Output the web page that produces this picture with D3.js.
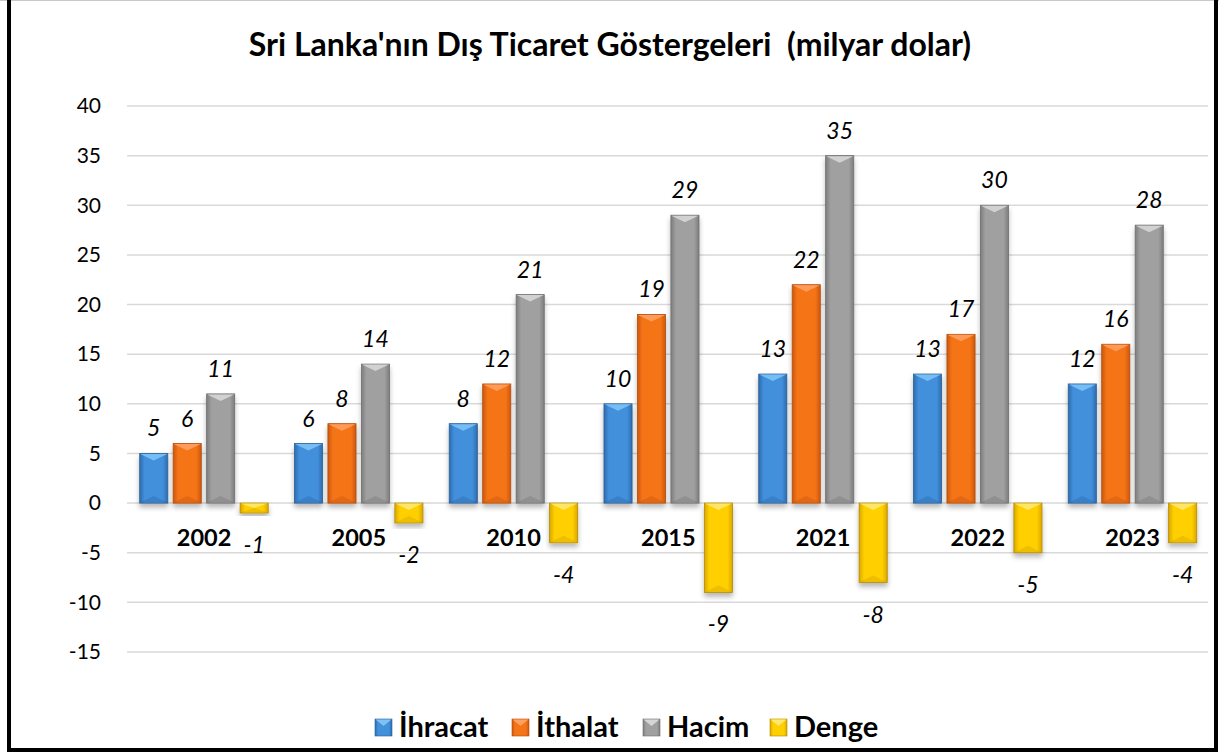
<!DOCTYPE html>
<html><head><meta charset="utf-8">
<script src="https://cdn.jsdelivr.net/npm/d3@7"></script>
<style>
html,body{margin:0;padding:0;background:#fff;}
svg{display:block;font-family:Lato,"Open Sans",sans-serif;}
</style></head>
<body>
<svg id="chart" width="1219" height="755"></svg>
<script>
const categories = ["2002","2005","2010","2015","2021","2022","2023"];
const seriesNames = ["İhracat","İthalat","Hacim","Denge"];
const ihracat = [5,6,8,10,13,13,12];
const ithalat = [6,8,12,19,22,17,16];
const hacim = [11,14,21,29,35,30,28];
const denge = [-1,-2,-4,-9,-8,-5,-4];
const yTicks = [40,35,30,25,20,15,10,5,0,-5,-10,-15];
const titleText = "Sri Lanka'nın Dış Ticaret Göstergeleri  (milyar dolar)";

const seriesValues = [ihracat, ithalat, hacim, denge];
const palette = [
  {base:"#4390db", light:"#7cc2f5", dark:"#2d6cb0", edge:"#2b5f96"},
  {base:"#f57418", light:"#ffa060", dark:"#cc580c", edge:"#b24d0b"},
  {base:"#a0a0a0", light:"#d6d6d6", dark:"#7d7d7d", edge:"#6e6e6e"},
  {base:"#ffcf00", light:"#ffe870", dark:"#d9a800", edge:"#b38a00"}
];

const svg = d3.select("#chart");
const defs = svg.append("defs");
const flt = defs.append("filter").attr("id","shadow").attr("x","-30%").attr("y","-30%").attr("width","160%").attr("height","160%");
flt.append("feDropShadow").attr("dx",0).attr("dy",4).attr("stdDeviation",2.5).attr("flood-color","#000").attr("flood-opacity",0.28);

palette.forEach((p,i)=>{
  const g = defs.append("linearGradient").attr("id","grad"+i).attr("x1","0").attr("x2","1").attr("y1","0").attr("y2","0");
  g.append("stop").attr("offset","0%").attr("stop-color",p.dark);
  g.append("stop").attr("offset","18%").attr("stop-color",p.base);
  g.append("stop").attr("offset","50%").attr("stop-color",p.base);
  g.append("stop").attr("offset","82%").attr("stop-color",p.base);
  g.append("stop").attr("offset","100%").attr("stop-color",p.dark);
});

// frame
svg.append("line").attr("x1",0).attr("x2",1219).attr("y1",0.5).attr("y2",0.5).attr("stroke","#c8c8c8").attr("stroke-width",1);
svg.append("path").attr("d","M9,0 V750 H1216 V0").attr("fill","none").attr("stroke","#000").attr("stroke-width",4);

const y = d3.scaleLinear().domain([-15,40]).range([652,106]);
const x0 = d3.scaleBand().domain(categories).range([126.7,1210]).padding(0);
const x1 = d3.scaleBand().domain(seriesNames).range([13,141.5]).paddingInner(0.16);

// gridlines
svg.append("g").selectAll("line").data(yTicks).join("line")
  .attr("x1",127).attr("x2",1208)
  .attr("y1",d=>y(d)).attr("y2",d=>y(d))
  .attr("stroke","#d9d9d9").attr("stroke-width",1.5);

// y axis labels
const yAxis = d3.axisLeft(y).tickValues(yTicks).tickSize(0).tickPadding(0).tickFormat(d=>String(d));
const yg = svg.append("g").attr("transform","translate(101,0)").call(yAxis);
yg.select(".domain").remove();
yg.selectAll("text").attr("font-size",21).attr("fill","#000").attr("font-family","Lato, sans-serif");

// title
svg.append("text").attr("x",610).attr("y",56).attr("text-anchor","middle")
  .style("white-space","pre")
  .attr("font-size",32).attr("font-weight","bold").attr("fill","#000").text(titleText);

// bars
const groups = svg.append("g").selectAll("g").data(categories).join("g")
  .attr("transform",d=>`translate(${x0(d)},0)`);

seriesNames.forEach((s,si)=>{
  const p = palette[si];
  groups.each(function(cat,ci){
    const v = seriesValues[si][ci];
    const g = d3.select(this).append("g").attr("filter","url(#shadow)");
    const bx = x1(s), bw = x1.bandwidth();
    const top = Math.min(y(v), y(0)), bot = Math.max(y(v), y(0));
    const h = bot - top;
    g.append("rect").attr("x",bx).attr("y",top).attr("width",bw).attr("height",h)
      .attr("fill",`url(#grad${si})`).attr("stroke",p.edge).attr("stroke-width",0.8);
    const b = Math.min(7, h/2);
    g.append("path").attr("d",`M${bx+0.5},${top+0.5} L${bx+bw-0.5},${top+0.5} L${bx+bw/2},${top+b} Z`)
      .attr("fill",p.light).attr("opacity",0.9);
    g.append("path").attr("d",`M${bx+0.5},${bot-0.5} L${bx+bw-0.5},${bot-0.5} L${bx+bw/2},${bot-b} Z`)
      .attr("fill",p.dark).attr("opacity",0.45);
    // label
    const lx = bx + bw/2;
    const ly = v >= 0 ? y(v) - 17 : y(v) + 40;
    d3.select(this).append("text").attr("x",lx).attr("y",ly).attr("text-anchor","middle")
      .attr("font-size",23).attr("font-style","italic").attr("fill","#000").text(String(v));
  });
});

// category labels
svg.append("g").selectAll("text").data(categories).join("text")
  .attr("x",d=>x0(d)+x0.bandwidth()/2).attr("y",546).attr("text-anchor","middle")
  .attr("font-size",23.5).attr("font-weight","bold").attr("fill","#000").text(d=>d);

// legend
const legX = [375,512,643,770];
const lg = svg.append("g").selectAll("g").data(seriesNames).join("g")
  .attr("transform",(d,i)=>`translate(${legX[i]},0)`);
lg.each(function(d,i){
  const g = d3.select(this);
  const p = palette[i];
  g.append("rect").attr("x",0).attr("y",719).attr("width",17).attr("height",17)
    .attr("fill",`url(#grad${i})`).attr("stroke",p.edge).attr("stroke-width",0.6);
  g.append("path").attr("d","M0.5,719.5 L16.5,719.5 L8.5,726 Z").attr("fill",p.light);
  g.append("text").attr("x",24).attr("y",737).attr("font-size",29).attr("font-weight","bold").attr("fill","#000").text(d);
});
</script>
</body></html>
